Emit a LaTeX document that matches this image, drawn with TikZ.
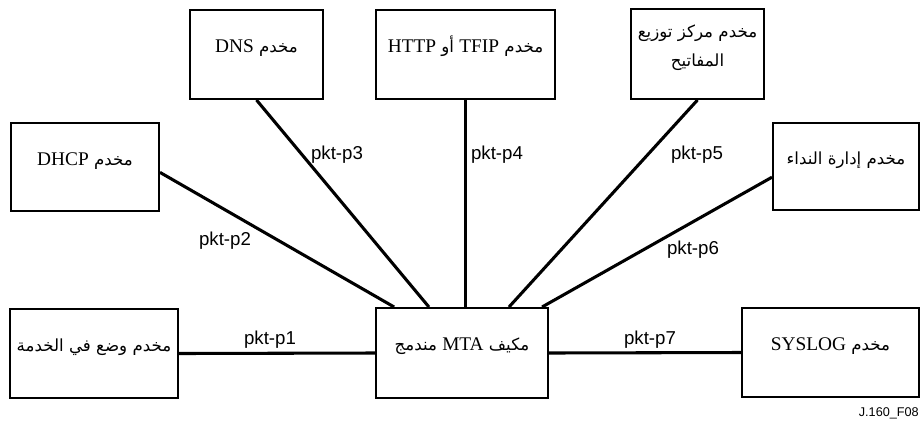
\documentclass[tikz,border=0pt]{standalone}
\usepackage{fontspec}
\setmainfont{Liberation Serif}
\newfontfamily\arabicfont[Script=Arabic]{DejaVu Sans}
\newfontfamily\labelfont{Liberation Sans}
\TeXXeTstate=1
\usetikzlibrary{calc,fit}

% right-to-left Arabic run, with Latin words set in the serif face
\newcommand{\rtltext}[1]{{\arabicfont\fontsize{12.5}{17}\selectfont\beginR #1\endR}}
\newcommand{\lat}[1]{{\rmfamily\fontsize{14.5}{17}\selectfont\beginL #1\endL}}

\begin{document}
\begin{tikzpicture}[x=0.75pt,y=-0.75pt,
  box/.style={draw, line width=1.5pt, inner sep=0pt, align=center, font=\fontsize{14.5}{17}\selectfont},
  link/.style={line width=2.3pt},
  tag/.style={font=\labelfont\fontsize{14}{16}\selectfont, inner sep=0pt}]
\useasboundingbox (0,0) rectangle (921,426);

% server boxes
\node[box, fit={(11,123) (159,211)}] (dhcp) {\rtltext{مخدم \lat{DHCP}}};
\node[box, fit={(190,10) (323,99)}] (dns) {\rtltext{مخدم \lat{DNS}}};
\node[box, fit={(376,10) (555,99)}] (tftp) {\rtltext{مخدم \lat{TFIP} أو \lat{HTTP}}};
\node[box, fit={(631,9) (764,99)}] (kdc) {\rtltext{مخدم مركز توزيع}\\[5pt]\rtltext{المفاتيح}};
\node[box, fit={(773,123) (919,210)}] (cms) {\rtltext{مخدم إدارة النداء}};
\node[box, fit={(10,309) (178,398)}] (prov) {\rtltext{مخدم وضع في الخدمة}};
\node[box, fit={(376,308) (548,398)}] (mta) {\rtltext{مكيف \lat{MTA} مندمج}};
\node[box, fit={(742,308) (919,397)}] (syslog) {\rtltext{مخدم \lat{SYSLOG}}};

% interfaces
\draw[link] (prov.east) -- (mta.west);
\draw[link] ($(dhcp.north east)!0.56!(dhcp.south east)$) -- ($(mta.north west)!0.11!(mta.north east)$);
\draw[link] (dns.south) -- ($(mta.north west)!0.31!(mta.north east)$);
\draw[link] (tftp.south) -- (tftp.south |- mta.north);
\draw[link] (kdc.south) -- ($(mta.north west)!0.77!(mta.north east)$);
\draw[link] ($(cms.north west)!0.62!(cms.south west)$) -- ($(mta.north west)!0.96!(mta.north east)$);
\draw[link] (mta.east) -- (syslog.west);

% interface names
\node[tag] (p1) at (270,340) {pkt-p1};
\node[tag] (p2) at (225,241) {pkt-p2};
\node[tag] (p3) at (337,155) {pkt-p3};
\node[tag] (p4) at (497,155) {pkt-p4};
\node[tag] (p5) at (697,155) {pkt-p5};
\node[tag] (p6) at (693,250) {pkt-p6};
\node[tag] (p7) at (650,340) {pkt-p7};

\node[font=\labelfont\fontsize{9.5}{11}\selectfont, anchor=east, inner sep=0pt] (fig) at (919,413) {J.160\_F08};
\end{tikzpicture}
\end{document}
